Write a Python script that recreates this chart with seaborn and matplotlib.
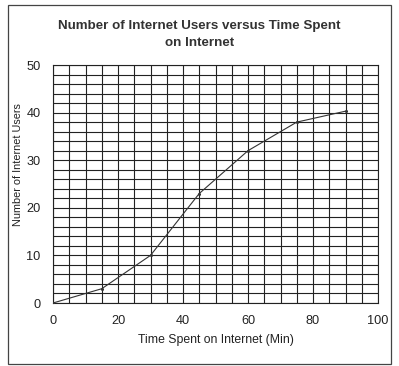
import matplotlib
matplotlib.use("Agg")
import matplotlib.pyplot as plt
import seaborn as sns
import pandas as pd
from matplotlib.patches import Rectangle

time_min = [0, 15, 30, 45, 60, 75, 90]
users = [0, 3, 10, 23, 32, 38, 40.3]
x_ticks = [0, 20, 40, 60, 80, 100]
y_ticks = [0, 10, 20, 30, 40, 50]

sns.set_theme(style="white")
plt.rcParams['font.family'] = ['Liberation Sans', 'DejaVu Sans']

df = pd.DataFrame({"time": time_min, "users": users})

fig = plt.figure(figsize=(3.99, 3.66), dpi=100)
ax = fig.add_axes([53/399, 1 - 303/366, (378 - 53)/399, (303 - 65)/366])

sns.lineplot(data=df, x="time", y="users", ax=ax, color="#333333", linewidth=0.8,
             marker="o", markersize=2.2, markeredgewidth=0, zorder=5)

ax.set_xlim(0, 100)
ax.set_ylim(0, 50)
ax.set_xticks(x_ticks)
ax.set_yticks(y_ticks)
ax.set_xticks(range(0, 101, 5), minor=True)
ax.set_yticks(range(0, 51, 2), minor=True)
ax.grid(which="both", color="#222222", linewidth=0.8)
ax.tick_params(which="both", length=0, labelsize=9.2, colors="#222222")
ax.tick_params(axis="x", pad=9)
ax.tick_params(axis="y", pad=9)
for s in ax.spines.values():
    s.set_color("#222222")
    s.set_linewidth(0.8)

ax.set_xlabel("Time Spent on Internet (Min)", fontsize=8.8, color="#222222")
ax.set_ylabel("Number of Internet Users", fontsize=7.8, color="#222222")
ax.xaxis.set_label_coords(0.5, -(340 - 303) / (303 - 65), transform=ax.transAxes)
ax.xaxis.label.set_va("center")
ax.yaxis.set_label_coords(-(53 - 18) / (378 - 53), (303 - 165) / (303 - 65), transform=ax.transAxes)
ax.yaxis.label.set_va("center")

fig.text(0.5, 1 - 34.5/366, "Number of Internet Users versus Time Spent\non Internet",
         ha="center", va="center", fontsize=9.6, fontweight="bold", color="#333333",
         linespacing=1.45)

fig.patches.append(Rectangle((8/399, 1 - 364/366), (391 - 8)/399, (364 - 5)/366,
                             transform=fig.transFigure, fill=False,
                             edgecolor="#444444", linewidth=0.9))

fig.savefig("out.png", dpi=100)
